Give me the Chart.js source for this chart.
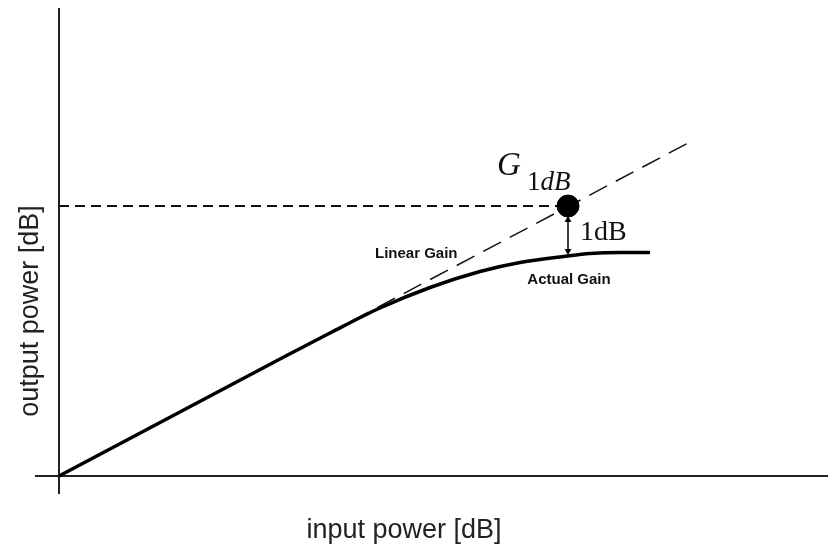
<!DOCTYPE html>
<html>
<head>
    <title>1 dB Compression Point</title>
    <script src="https://cdn.jsdelivr.net/npm/chart.js"></script>
    <style>
        body {
            margin: 0;
            background: white;
        }
        .chart-container {
            width: 828px;
            height: 556px;
            position: relative;
        }
    </style>
</head>
<body>
    <div class="chart-container">
        <canvas id="gainChart"></canvas>
    </div>

    <script>
        // Values (arbitrary units, origin at the axes crossing)
        const linearX = [0, 63.1];
        const linearY = [0, 33.4];

        const actualX = [0, 22.1, 27.1, 32.1, 37.1, 42.1, 46.1, 50.8, 53.1, 56.1, 59.1];
        const actualY = [0, 11.7, 14.3, 16.8, 18.85, 20.45, 21.35, 22.0, 22.25, 22.35, 22.35];

        const compX = 50.9;      // input at the 1 dB compression point
        const compOut = 27.0;    // output on the linear line there
        const arrowY = [25.6, 22.5];

        const xRange = [-2.4, 76.9];
        const yRange = [-1.8, 46.8];

        const toPts = (xs, ys) => xs.map((x, i) => ({ x: x, y: ys[i] }));

        // Text labels drawn on top of the datasets
        const labelPlugin = {
            id: 'labels',
            afterDatasetsDraw(chart) {
                const ctx = chart.ctx;
                const xs = chart.scales.x;
                const ys = chart.scales.y;
                const px = v => xs.getPixelForValue(v);
                const py = v => ys.getPixelForValue(v);
                ctx.save();
                ctx.fillStyle = '#111';
                ctx.textBaseline = 'alphabetic';

                ctx.font = 'bold 15px "Liberation Sans", Arial, sans-serif';
                ctx.textAlign = 'left';
                ctx.fillText('Linear Gain', px(31.6), py(21.8));
                ctx.textAlign = 'center';
                ctx.fillText('Actual Gain', px(51.0), py(19.2));

                ctx.textAlign = 'left';
                ctx.font = '28px "Liberation Serif", "Times New Roman", serif';
                ctx.fillText('1dB', px(52.1), py(23.6));

                // G with subscript 1dB
                ctx.font = 'italic 33px "Liberation Serif", "Times New Roman", serif';
                ctx.fillText('G', px(43.8), py(30.1));
                ctx.font = '27px "Liberation Serif", "Times New Roman", serif';
                ctx.fillText('1', px(46.8), py(28.6));
                const w1 = ctx.measureText('1').width;
                ctx.font = 'italic 27px "Liberation Serif", "Times New Roman", serif';
                ctx.fillText('dB', px(46.8) + w1, py(28.6));

                // axis titles
                ctx.font = '27px "Liberation Sans", Arial, sans-serif';
                ctx.fillStyle = '#222';
                ctx.textAlign = 'center';
                ctx.textBaseline = 'middle';
                ctx.fillText('input power [dB]', 404, 531);
                ctx.translate(31, 311);
                ctx.rotate(-Math.PI / 2);
                ctx.fillText('output power [dB]', 0, 0);
                ctx.restore();
            }
        };

        const ctx = document.getElementById('gainChart').getContext('2d');
        new Chart(ctx, {
            type: 'scatter',
            data: {
                datasets: [
                    {
                        label: 'x axis',
                        data: toPts(xRange, [0, 0]),
                        showLine: true,
                        borderColor: '#222',
                        borderWidth: 2,
                        pointRadius: 0,
                        order: 5
                    },
                    {
                        label: 'y axis',
                        data: toPts([0, 0], yRange),
                        showLine: true,
                        borderColor: '#222',
                        borderWidth: 2,
                        pointRadius: 0,
                        order: 5
                    },
                    {
                        label: 'P1dB level',
                        data: toPts([0, compX], [compOut, compOut]),
                        showLine: true,
                        borderColor: '#111',
                        borderWidth: 2,
                        borderDash: [10, 6],
                        pointRadius: 0,
                        order: 4
                    },
                    {
                        label: 'Linear Gain',
                        data: toPts(linearX, linearY),
                        showLine: true,
                        borderColor: '#111',
                        borderWidth: 1.5,
                        borderDash: [20, 10],
                        pointRadius: 0,
                        order: 3
                    },
                    {
                        label: 'Actual Gain',
                        data: toPts(actualX, actualY),
                        showLine: true,
                        borderColor: '#000',
                        borderWidth: 3.5,
                        cubicInterpolationMode: 'monotone',
                        pointRadius: 0,
                        order: 2
                    },
                    {
                        label: '1dB arrow',
                        data: toPts([compX, compX], arrowY),
                        showLine: true,
                        borderColor: '#000',
                        borderWidth: 1.5,
                        pointStyle: 'triangle',
                        pointRadius: 4,
                        rotation: [0, 180],
                        backgroundColor: '#000',
                        pointBorderWidth: 0,
                        order: 1
                    },
                    {
                        label: 'G1dB',
                        data: toPts([compX], [compOut]),
                        backgroundColor: '#000',
                        borderColor: '#000',
                        pointRadius: 11,
                        order: 0
                    }
                ]
            },
            options: {
                responsive: true,
                maintainAspectRatio: false,
                animation: false,
                layout: {
                    autoPadding: false,
                    padding: { left: 35, right: 0, top: 8, bottom: 62 }
                },
                elements: { line: { tension: 0 } },
                datasets: { scatter: { clip: false } },
                scales: {
                    x: { type: 'linear', min: xRange[0], max: xRange[1], display: false },
                    y: { type: 'linear', min: yRange[0], max: yRange[1], display: false }
                },
                plugins: {
                    legend: { display: false },
                    tooltip: { enabled: false }
                }
            },
            plugins: [labelPlugin]
        });
    </script>
</body>
</html>
